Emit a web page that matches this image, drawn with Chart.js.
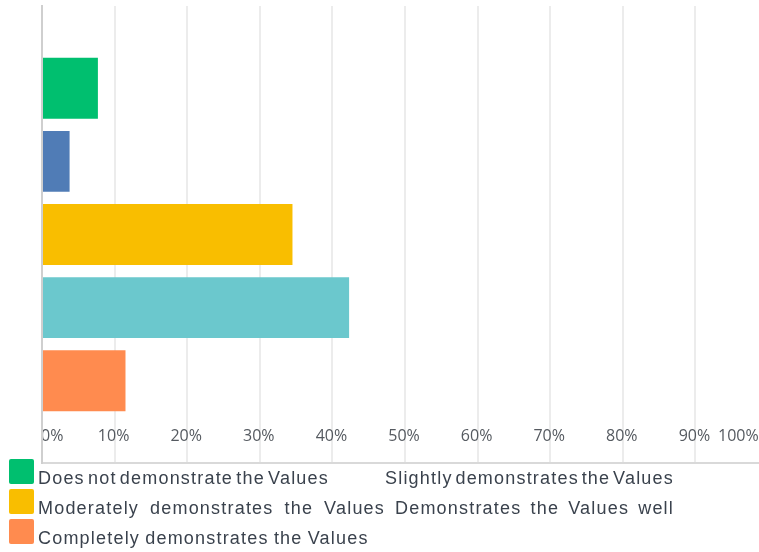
<!DOCTYPE html>
<html>
<head>
<meta charset="utf-8">
<script src="https://cdn.jsdelivr.net/npm/chart.js@4/dist/chart.umd.min.js"></script>
<style>
html,body{margin:0;padding:0;background:#fff;overflow:hidden;width:759px;height:552px;}
#wrap{position:relative;width:759px;height:552px;overflow:hidden;}
#c{position:absolute;left:0;top:0;}
.lg-box{position:absolute;width:25px;height:25px;border-radius:2px;}
.lg-text{position:absolute;font-family:"Liberation Sans",Arial,sans-serif;font-size:18px;line-height:30px;height:30px;color:#3a424d;letter-spacing:1.2px;word-spacing:-3.5px;white-space:nowrap;text-align:justify;text-align-last:justify;}
.lg-text.last{text-align:left;text-align-last:left;word-spacing:-1px;}
</style>
</head>
<body>
<div id="wrap">
<canvas id="c" width="790" height="470"></canvas>
<div id="legend"></div>
</div>
<script>
// ---- data ----
const categories = [''];
const seriesNames = [
  'Does not demonstrate the Values',
  'Slightly demonstrates the Values',
  'Moderately demonstrates the Values',
  'Demonstrates the Values well',
  'Completely demonstrates the Values'
];
const seriesValues = [7.7, 3.8, 34.5, 42.3, 11.5];
const seriesColors = ['#00bf6f', '#507cb6', '#f9be00', '#6bc8cd', '#ff8b4f'];
const tickLabels = ['0%', '10%', '20%', '30%', '40%', '50%', '60%', '70%', '80%', '90%', '100%'];

// ---- chart ----
const datasets = seriesNames.map((name, i) => ({
  label: name,
  data: [seriesValues[i]],
  backgroundColor: seriesColors[i],
  borderWidth: 0,
  barPercentage: 0.834,
  categoryPercentage: 0.8
}));

new Chart(document.getElementById('c').getContext('2d'), {
  type: 'bar',
  data: { labels: categories, datasets: datasets },
  options: {
    indexAxis: 'y',
    responsive: false,
    animation: false,
    layout: { padding: { left: 42, top: 6, right: 22, bottom: 7 } },
    plugins: { legend: { display: false }, tooltip: { enabled: false }, title: { display: false } },
    scales: {
      x: {
        min: 0, max: 100, position: 'bottom',
        ticks: {
          stepSize: 10, autoSkip: false, maxRotation: 0, minRotation: 0,
          align: 'inner', mirror: true, padding: 17, labelOffset: -1,
          color: '#555a60',
          font: { family: '"Open Sans", "Liberation Sans", sans-serif', size: 16 },
          callback: (v, i) => (i === tickLabels.length - 1 ? tickLabels[i] + '  ' : tickLabels[i])
        },
        grid: { color: '#ececec', lineWidth: 2, drawTicks: false },
        border: { display: true, color: '#d9d9d9', width: 2 },
        afterFit: (s) => { s.height = 0; }
      },
      y: {
        ticks: { display: false },
        grid: { display: false, drawTicks: false },
        border: { display: true, color: '#cfcfcf', width: 2 },
        afterFit: (s) => { s.width = 0; }
      }
    }
  }
});

// ---- legend (HTML, built from the series arrays) ----
const slots = [
  { left: 38, top: 463, width: 291, box: true },
  { left: 385, top: 463, width: 289, box: false },
  { left: 38, top: 493, width: 347, box: true },
  { left: 395, top: 493, width: 279, box: false },
  { left: 38, top: 523, width: 0, box: true }
];
const legend = document.getElementById('legend');
seriesNames.forEach((name, i) => {
  const s = slots[i];
  if (s.box) {
    const b = document.createElement('div');
    b.className = 'lg-box';
    b.style.left = '9px';
    b.style.top = (s.top - 4) + 'px';
    b.style.background = seriesColors[i];
    legend.appendChild(b);
  }
  const t = document.createElement('div');
  t.className = 'lg-text' + (s.width ? '' : ' last');
  t.style.left = s.left + 'px';
  t.style.top = s.top + 'px';
  if (s.width) t.style.width = s.width + 'px';
  t.textContent = name;
  legend.appendChild(t);
});
</script>
</body>
</html>
